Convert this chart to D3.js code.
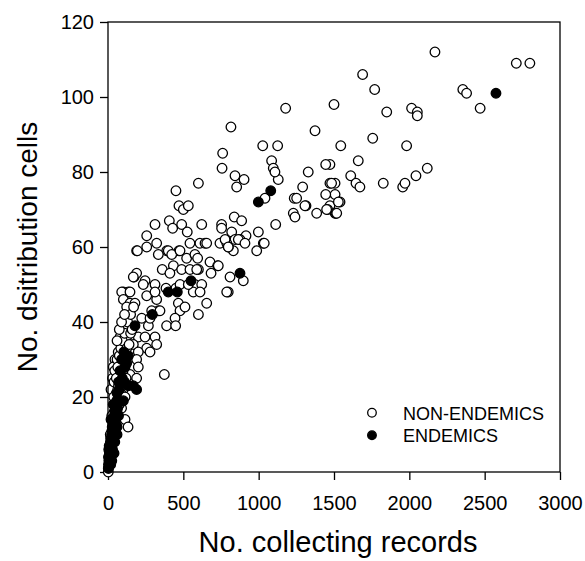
<!DOCTYPE html>
<html>
<head>
<meta charset="utf-8">
<script src="https://cdn.jsdelivr.net/npm/d3@7"></script>
<style>
  body { margin: 0; background: #fff; }
  text { font-family: "Liberation Sans", Arial, sans-serif; fill: #000; }
</style>
</head>
<body>
<div id="chart"></div>
<script>

// [collecting records, distribution cells]
var nonEndemics = [
  [2170,112],[2710,109],[2800,109],[1690,106],[1770,102],[1500,98],[1850,96],[2015,97],[2053,96],[2053,95],
  [2355,102],[2380,101],[2470,97],[1545,87],[1757,89],[1982,87],[1661,83],[1611,79],[1646,77],[1672,76],
  [1827,77],[1956,76],[1971,77],[2044,79],[2119,81],[1473,82],[1507,77],[1507,74],[1540,72],[1507,69],[1473,71],
  [1179,97],[816,92],[1374,91],[1027,87],[1126,87],[761,85],[1086,83],[1097,81],[1445,82],[757,81],[843,79],
  [903,78],[1130,78],[854,76],[1329,80],[1292,76],[600,77],[451,75],[1473,77],[1445,74],[1042,73],[1236,73],
  [1252,73],[1230,69],[1241,68],[1314,71],[1385,69],[1458,70],[1513,69],[1529,72],[471,71],[500,70],[533,71],
  [312,66],[407,67],[429,65],[489,66],[526,64],[622,66],[257,63],[323,61],[754,66],[754,65],[838,68],[887,67],
  [821,64],[998,64],[1113,66],[916,63],[876,62],[843,62],[610,61],[644,61],[544,61],[743,61],[788,61],[1031,61],
  [190,59],[257,60],[390,59],[471,59],
  [1108,80],[1307,71],[1451,70],[1518,69],[1484,77],[865,62],[1037,61],[987,59],[909,61],[832,59],[799,60],
  [810,52],[898,51],[798,48],
  [195,59],[334,58],[400,59],[423,58],[478,59],[522,57],[577,58],[595,57],[655,61],[777,62],[798,60],[360,54],
  [434,55],[489,54],[544,54],[600,54],[677,56],[728,55],[684,53],[411,53],[173,52],[246,51],[190,53],[312,50],
  [102,48],[135,48],[385,49],[451,49],[577,50],[622,50],
  [91,48],[146,48],[102,46],[146,45],[179,45],[124,44],[257,47],[323,46],[312,48],[566,48],[611,48],[788,48],
  [467,45],[478,43],[655,45],[600,42],[334,43],[290,43],[445,41],[389,39],[449,39],[224,41],[268,39],[102,38],
  [80,36],[124,36],[201,36],[246,36],[312,36],[257,33],[323,34],[168,34],[201,32],[279,32],[68,32],[46,30],
  [190,30],[201,28],[58,28],[374,26],[146,26],[190,25],[46,23],[58,20],[102,20],[234,50],[345,43],[279,41],
  [478,50],[511,44],[533,50],[589,54],[732,55],[168,52],
  [20,22],[30,25],[35,28],[45,27],[60,30],[75,31],[85,33],[95,35],[110,37],[130,40],[150,42],[170,44],
  [60,35],[75,38],[90,40],[110,42],[40,24],[100,27],[120,30],[80,14],[90,17],[100,22],[60,10],
  [2,0],[4,1],[6,2],[8,3],[10,5],[14,6],[16,7],[18,9],[22,10],[26,11],[28,12],[32,14],[36,15],[40,16],[44,18],
  [50,19],[55,21],[65,22],[70,23],[78,24],[85,21],[95,23],[113,20],[113,14],[133,12],[60,16],[48,12],[30,8],
  [20,5],[12,3],[75,18],[90,26],[120,25],[38,20],[25,15],[3,4],[8,7],[15,10],[55,25],[65,28],[100,30],[125,33],
  [140,34],[150,37],[160,38]
];

var endemics = [
  [2575,101],[998,72],[1080,75],[876,53],[551,51],[400,48],[460,48],[294,42],[179,39],[135,31],[124,29],
  [80,27],[113,28],[168,23],[190,22],[135,23],[58,19],[102,19],
  [90,30],[105,32],[75,22],[95,25],[110,24],
  [30,6],[45,8],[55,10],[60,12],[35,9],[25,3],[40,5],[18,2],
  [2,1],[4,2],[6,3],[8,4],[10,5],[12,6],[14,7],[16,8],[20,9],[24,10],[28,11],[30,12],[34,13],[38,14],[42,15],
  [46,16],[35,18],[50,17],[54,18],[64,17],[70,15],[40,11],[24,7],[15,4],[8,2],[50,13],[60,21],[70,24],[5,6],[20,14]
];

var xTicks = [0, 500, 1000, 1500, 2000, 2500, 3000];
var yTicks = [0, 20, 40, 60, 80, 100, 120];
var legendLabels = ["NON-ENDEMICS", "ENDEMICS"];

var width = 585,
    height = 561;
var margin = {left: 108, top: 22, right: 25, bottom: 89};
var plotW = width - margin.left - margin.right,
    plotH = height - margin.top - margin.bottom;

var svg = d3.select('#chart')
  .append('svg')
    .attr('width', width)
    .attr('height', height);

var x = d3.scaleLinear().domain([0, 3000]).range([0, plotW]);
var y = d3.scaleLinear().domain([0, 120]).range([plotH, 0]);

var g = svg.append('g')
  .attr('transform', 'translate(' + margin.left + ',' + margin.top + ')');

//axes
var xAxis = g.append('g')
  .attr('transform', 'translate(0,' + plotH + ')')
  .call(d3.axisBottom(x).tickValues(xTicks).tickFormat(d3.format('d'))
        .tickSize(8).tickSizeOuter(0).tickPadding(16));

var yAxis = g.append('g')
  .call(d3.axisLeft(y).tickValues(yTicks).tickFormat(d3.format('d'))
        .tickSize(8).tickSizeOuter(0).tickPadding(6));

[xAxis, yAxis].forEach(function(a){
  a.select('.domain').remove();
  a.selectAll('line').attr('stroke', '#000').attr('stroke-width', 1.3);
  a.selectAll('text').style('font-size', '20px').attr('fill', '#000');
});

//points
g.selectAll('.non-endemic')
  .data(nonEndemics)
  .enter()
  .append('circle')
  .attr('class', 'non-endemic')
  .attr('cx', function(d){ return x(d[0]); })
  .attr('cy', function(d){ return y(d[1]); })
  .attr('r', 4.8)
  .style('fill', '#fff')
  .style('stroke', '#000')
  .style('stroke-width', 1.3);

g.selectAll('.endemic')
  .data(endemics)
  .enter()
  .append('circle')
  .attr('class', 'endemic')
  .attr('cx', function(d){ return x(d[0]); })
  .attr('cy', function(d){ return y(d[1]); })
  .attr('r', 4.8)
  .style('fill', '#000')
  .style('stroke', '#000')
  .style('stroke-width', 1.3);

//frame
g.append('rect')
  .attr('width', plotW)
  .attr('height', plotH)
  .style('fill', 'none')
  .style('stroke', '#000')
  .style('stroke-width', 1.3);

//legend
var legend = g.append('g')
  .attr('transform', 'translate(' + x(1752) + ',' + y(15.8) + ')');

legend.selectAll('circle')
  .data(legendLabels)
  .enter()
  .append('circle')
  .attr('cx', 0)
  .attr('cy', function(d, i){ return i * 22.5; })
  .attr('r', 4.3)
  .style('fill', function(d, i){ return i === 0 ? '#fff' : '#000'; })
  .style('stroke', '#000')
  .style('stroke-width', 1.3);

legend.selectAll('text')
  .data(legendLabels)
  .enter()
  .append('text')
  .attr('x', 31)
  .attr('y', function(d, i){ return i * 22.5 + 7; })
  .style('font-size', '18px')
  .text(function(d){ return d; });

//axis titles
svg.append('text')
  .attr('x', margin.left + plotW / 2 + 4)
  .attr('y', 552)
  .attr('text-anchor', 'middle')
  .style('font-size', '29px')
  .text('No. collecting records');

svg.append('text')
  .attr('transform', 'translate(37,' + (margin.top + plotH / 2) + ') rotate(-90)')
  .attr('text-anchor', 'middle')
  .style('font-size', '28px')
  .text('No. dsitribution cells');

</script>
</body>
</html>
